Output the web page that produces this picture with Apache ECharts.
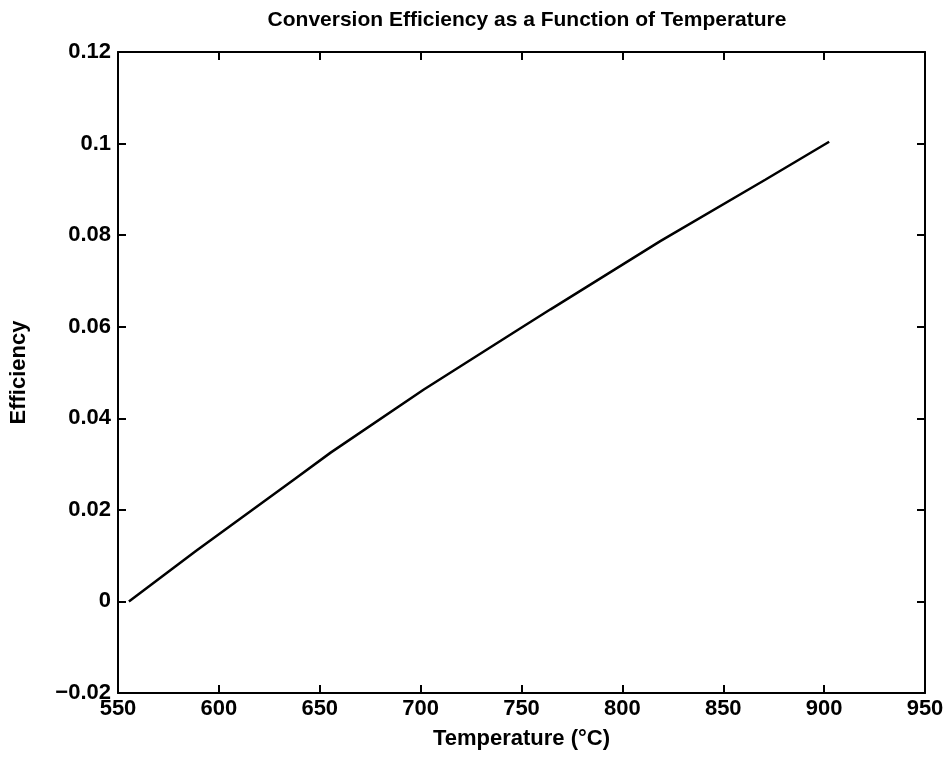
<!DOCTYPE html>
<html>
<head>
<meta charset="utf-8">
<script src="https://cdn.jsdelivr.net/npm/echarts@6/dist/echarts.min.js"></script>
<style>
  html, body { margin: 0; padding: 0; background: #fff; }
  #chart { width: 949px; height: 758px; }
</style>
</head>
<body>
<div id="chart"></div>
<script>
// Temperature (°C) and conversion efficiency along the curve
const temperature = [555.4, 588.6, 637.1, 655.4, 701.6, 748.5, 764.4, 818.8, 870.8, 902.5];
const efficiency  = [0.0, 0.0110, 0.0266, 0.0325, 0.0463, 0.0594, 0.0638, 0.0787, 0.0921, 0.1004];

const xTicks = { min: 550, max: 950, interval: 50 };
const yTicks = { min: -0.02, max: 0.12, interval: 0.02 };

const FONT = '"Liberation Sans", Arial, Helvetica, sans-serif';

function fmtY(v) {
  const r = Math.round(v * 100) / 100;
  if (r === 0) return '0';
  const s = String(Math.abs(r));
  return (r < 0 ? '\u2212' : '') + s;
}

const chart = echarts.init(document.getElementById('chart'), null, { renderer: 'canvas' });

const lineStyle = { color: '#000', width: 2 };
const tick = { show: true, inside: true, length: 8, lineStyle: { color: '#000', width: 2 } };
const label = { color: '#000', fontFamily: FONT, fontSize: 22, fontWeight: 'bold' };
const nameStyle = { color: '#000', fontFamily: FONT, fontSize: 22, fontWeight: 'bold' };

chart.setOption({
  animation: false,
  backgroundColor: '#fff',
  title: {
    text: 'Conversion Efficiency as a Function of Temperature',
    left: 522, top: 5, textAlign: 'center',
    textStyle: { color: '#000', fontFamily: FONT, fontSize: 21, fontWeight: 'bold' }
  },
  grid: { left: 117, right: 24, top: 52, bottom: 65, containLabel: false },
  xAxis: [
    {
      type: 'value', position: 'bottom',
      min: xTicks.min, max: xTicks.max, interval: xTicks.interval,
      name: 'Temperature (°C)', nameLocation: 'middle', nameGap: 35,
      nameTextStyle: nameStyle,
      axisLine: { show: true, onZero: false, lineStyle: lineStyle },
      axisTick: tick,
      axisLabel: Object.assign({ margin: 5 }, label),
      splitLine: { show: false }
    },
    {
      type: 'value', position: 'top',
      min: xTicks.min, max: xTicks.max, interval: xTicks.interval,
      axisLine: { show: true, onZero: false, lineStyle: lineStyle },
      axisTick: tick,
      axisLabel: { show: false },
      splitLine: { show: false }
    }
  ],
  yAxis: [
    {
      type: 'value', position: 'left',
      min: yTicks.min, max: yTicks.max, interval: yTicks.interval,
      name: 'Efficiency', nameLocation: 'middle', nameGap: 88, nameRotate: 90,
      nameTextStyle: nameStyle,
      axisLine: { show: true, onZero: false, lineStyle: lineStyle },
      axisTick: tick,
      axisLabel: Object.assign({ margin: 7, formatter: fmtY }, label),
      splitLine: { show: false }
    },
    {
      type: 'value', position: 'right',
      min: yTicks.min, max: yTicks.max, interval: yTicks.interval,
      axisLine: { show: true, onZero: false, lineStyle: lineStyle },
      axisTick: tick,
      axisLabel: { show: false },
      splitLine: { show: false }
    }
  ],
  series: [{
    type: 'line',
    data: temperature.map((t, i) => [t, efficiency[i]]),
    showSymbol: false,
    smooth: false,
    lineStyle: { color: '#000', width: 2.5 },
    xAxisIndex: 0, yAxisIndex: 0
  }]
});
</script>
</body>
</html>
